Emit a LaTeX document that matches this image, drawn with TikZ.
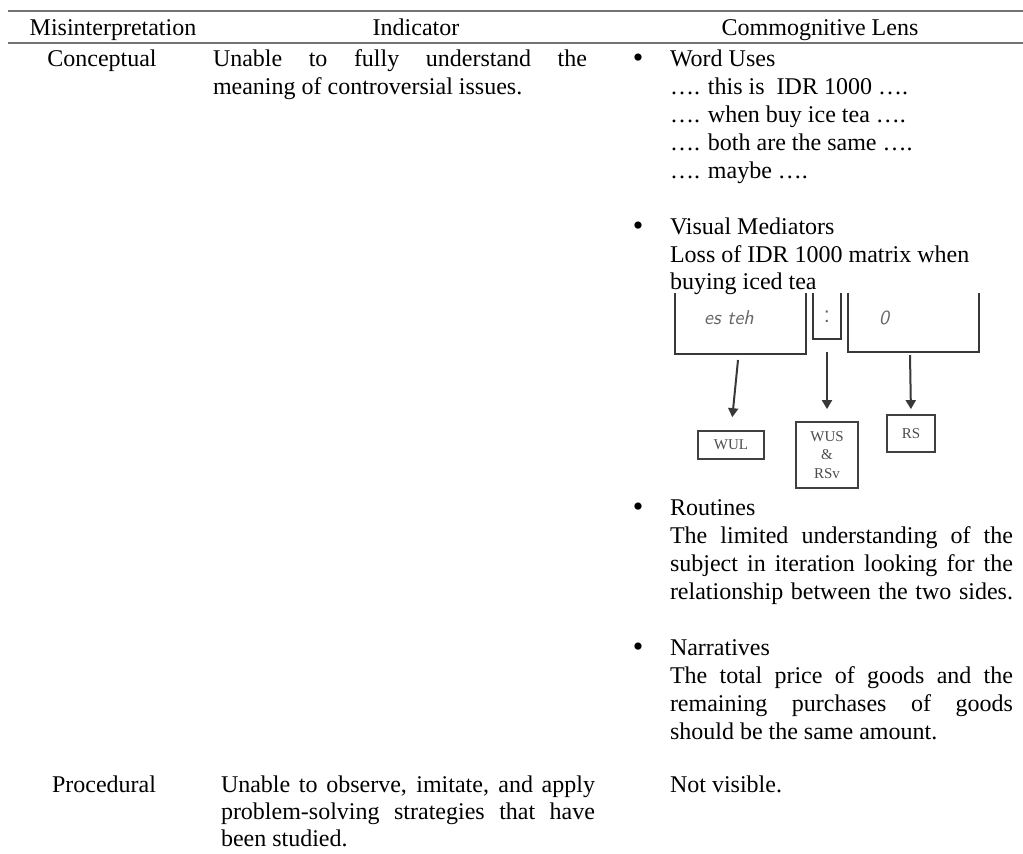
\documentclass[tikz,border=0pt]{standalone}
\usepackage{fontspec}
\setmainfont{Liberation Serif}
\usetikzlibrary{arrows.meta}
\newcommand\fillline[2]{\makebox[#1][s]{#2}}
\begin{document}
\begin{tikzpicture}[x=0.5pt,y=-0.5pt,
  txt/.style={inner sep=0pt, outer sep=0pt, font=\fontsize{12}{14}\selectfont, anchor=base west},
  ctr/.style={txt, anchor=base},
  dot/.style={txt, anchor=base, font=\fontsize{15}{16}\selectfont},
  rule/.style={draw=black!55, line width=0.75pt},
  scanline/.style={draw=black!78, line width=1pt},
  scanarrow/.style={scanline, -{Triangle[width=5pt,length=4.5pt]}},
  scanlabel/.style={draw=black!75, line width=0.9pt, inner sep=0pt, align=center,
    font=\fontsize{7.5}{9.25}\selectfont, text=black!70},
  hand/.style={inner sep=0pt, text=black!60, font=\fontsize{10}{11}\selectfont\sffamily\itshape}
]
\useasboundingbox (0,0) rectangle (1023,853);

% table rules
\draw[rule] (8,11) -- (1023,11);
\draw[rule] (8,43) -- (1023,43);

% header
\node[ctr] (h1) at (113,35) {Misinterpretation};
\node[ctr] (h2) at (416,35) {Indicator};
\node[ctr] (h3) at (820,35) {Commognitive Lens};

% row: conceptual
\node[ctr] (c1) at (102,66) {Conceptual};
\node[txt] (i1a) at (213,66) {\fillline{187pt}{Unable to fully understand the}};
\node[txt] (i1b) at (213,94) {meaning of controversial issues.};

% word uses
\node[dot] (b1) at (638,67) {\textbullet};
\node[txt] (w0) at (670,66) {Word Uses};
\node[txt] (w1) at (670,94) {…. this is\ \ IDR 1000 ….};
\node[txt] (w2) at (670,122) {…. when buy ice tea ….};
\node[txt] (w3) at (670,150) {…. both are the same ….};
\node[txt] (w4) at (670,178) {…. maybe ….};

% visual mediators
\node[dot] (b2) at (638,235) {\textbullet};
\node[txt] (v0) at (670,234) {Visual Mediators};
\node[txt] (v1) at (670,262) {Loss of IDR 1000 matrix when};
\node[txt] (v2) at (670,289) {buying iced tea};

% scanned sketch: the three cells
\draw[scanline] (675,293) -- (675,354) -- (806,354) -- (806,293);
\draw[scanline] (813,293) -- (813,339) -- (841,339) -- (841,293);
\draw[scanline] (848,293) -- (848,352) -- (979,352) -- (979,293);
\node[hand] (hw1) at (729,318) {es teh};
\node[hand, font=\fontsize{13}{14}\selectfont\sffamily] (hw2) at (827,317) {:};
\node[hand] (hw3) at (884,318) {0};

% labels and their arrows
\node[scanlabel, minimum width=33pt, minimum height=14pt] (wul) at (731,445) {WUL};
\node[scanlabel, minimum width=31pt, minimum height=33pt] (wus) at (827,455) {WUS\\\&\\RSv};
\node[scanlabel, minimum width=24pt, minimum height=18.5pt] (rs) at (911,433.5) {RS};
\coordinate (a1) at (738,360);
\coordinate (a2) at (827,352);
\coordinate (a3) at (910,355);
\draw[scanarrow, shorten >=6.5pt] (a1) -- (wul.north);
\draw[scanarrow, shorten >=6pt] (a2) -- (wus.north);
\draw[scanarrow, shorten >=2.5pt] (a3) -- (rs.north);

% routines
\node[dot] (b3) at (638,516) {\textbullet};
\node[txt] (r0) at (670,515) {Routines};
\node[txt] (r1) at (670,543) {\fillline{171.5pt}{The limited understanding of the}};
\node[txt] (r2) at (670,571) {\fillline{171.5pt}{subject in iteration looking for the}};
\node[txt] (r3) at (670,599) {\fillline{171.5pt}{relationship between the two sides.}};

% narratives
\node[dot] (b4) at (638,656) {\textbullet};
\node[txt] (n0) at (670,655) {Narratives};
\node[txt] (n1) at (670,683) {\fillline{171.5pt}{The total price of goods and the}};
\node[txt] (n2) at (670,711) {\fillline{171.5pt}{remaining purchases of goods}};
\node[txt] (n3) at (670,739) {should be the same amount.};

% row: procedural
\node[ctr] (c2) at (104,792) {Procedural};
\node[txt] (i2a) at (221,792) {\fillline{187pt}{Unable to observe, imitate, and apply}};
\node[txt] (i2b) at (221,819) {\fillline{187pt}{problem-solving strategies that have}};
\node[txt] (i2c) at (221,846) {been studied.};
\node[txt] (p2) at (670,792) {Not visible.};
\end{tikzpicture}
\end{document}
